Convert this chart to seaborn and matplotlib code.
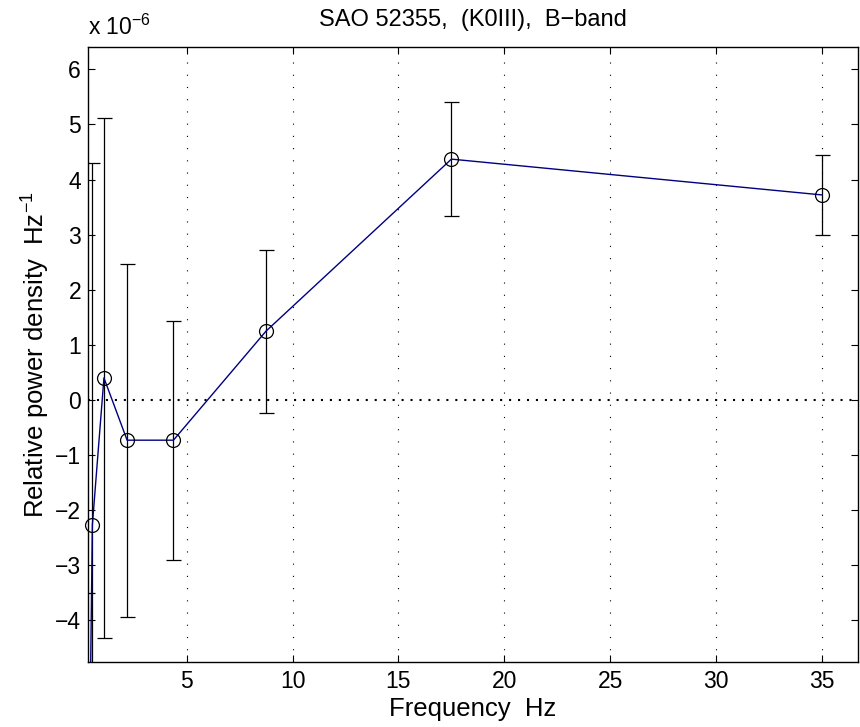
import numpy as np
import pandas as pd
import matplotlib
matplotlib.use("Agg")
import matplotlib.pyplot as plt
import seaborn as sns

# Data (power density in units of 1e-6 Hz^-1)
freq = [0.2734, 0.5469, 1.0938, 2.1875, 4.375, 8.75, 17.5, 35.0]
power = [-11.0, -2.27, 0.40, -0.73, -0.73, 1.25, 4.37, 3.72]
err = [7.5, 6.57, 4.72, 3.20, 2.17, 1.48, 1.04, 0.72]
xticks = [5, 10, 15, 20, 25, 30, 35]
yticks = [-4, -3, -2, -1, 0, 1, 2, 3, 4, 5, 6]
xlim = (0.34, 36.7)
ylim = (-4.75, 6.4)

sns.set_style("ticks")
plt.rcParams['font.family'] = ['Liberation Sans', 'DejaVu Sans']
plt.rcParams['mathtext.default'] = 'regular'
plt.rcParams['text.color'] = 'black'
plt.rcParams['axes.labelcolor'] = 'black'

df = pd.DataFrame({"freq": freq, "power": power, "err": err})

fig = plt.figure(figsize=(8.6, 7.27), dpi=100)
ax = fig.add_axes([0.1023, 0.0898, 0.8954, 0.8452])

# vertical dotted grid
for xt in xticks:
    ax.axvline(xt, color='black', lw=0.8, ls=(0, (1, 10)), zorder=0)
# zero line
ax.axhline(0, color='black', lw=1.5, ls=(0, (1, 3.3)), zorder=1)

ax.errorbar(df["freq"], df["power"], yerr=df["err"], fmt='none',
            ecolor='black', elinewidth=0.9, capsize=5.4, capthick=0.9, zorder=2)

sns.lineplot(data=df, x="freq", y="power", color='#000080', lw=1.0,
             sort=False, estimator=None, ax=ax, zorder=3)

vis = df[df["freq"] >= xlim[0]]
ax.plot(vis["freq"], vis["power"], ls='none', marker='o', markersize=10,
        markerfacecolor='none', markeredgecolor='black', markeredgewidth=0.9,
        clip_on=False, zorder=4)

ax.set_xlim(*xlim)
ax.set_ylim(*ylim)
ax.set_xticks(xticks)
ax.set_yticks(yticks)
ax.tick_params(direction='in', top=True, right=True, length=5, width=0.8,
               labelsize=16.5, colors='black')
ax.tick_params(axis='x', pad=6)
ax.tick_params(axis='y', pad=5)
for s in ax.spines.values():
    s.set_visible(True)
    s.set_linewidth(1.0)
    s.set_color('black')

ax.set_xlabel("Frequency  Hz", fontsize=18.5, labelpad=3)
ax.set_ylabel("Relative power density  Hz$^{-1}$", fontsize=18.5, labelpad=2)
ax.set_title("SAO 52355,  (K0III),  B\u2212band", fontsize=17, pad=15, color='black')
fig.text(88 / 860, 1 - 35 / 727, "x 10$^{-6}$", fontsize=16.5, ha='left', va='baseline')

fig.savefig("out.png", dpi=100)
